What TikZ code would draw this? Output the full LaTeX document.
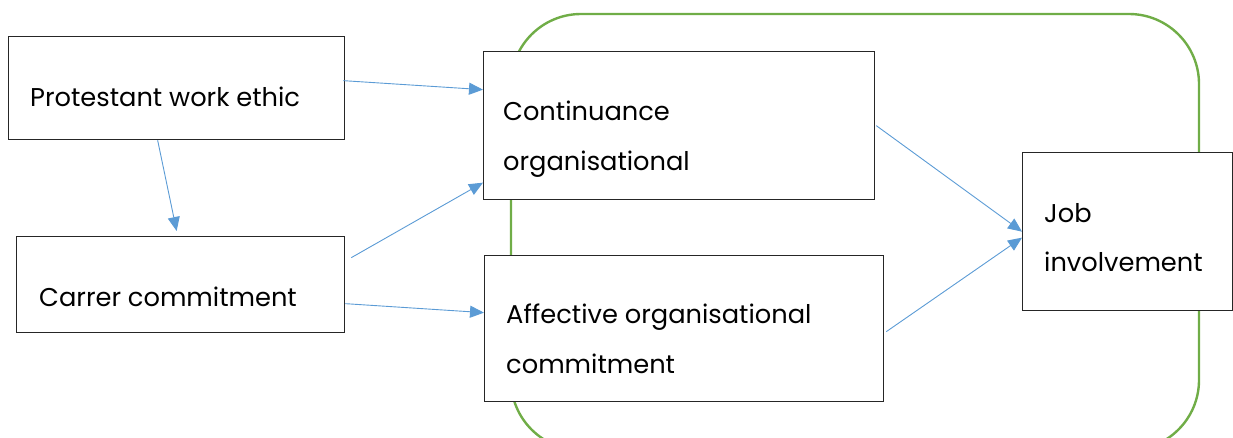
\documentclass[tikz,border=0pt]{standalone}
\usepackage{fontspec}
\setmainfont{Poppins}
\usetikzlibrary{arrows.meta}
\definecolor{arrowblue}{HTML}{5B9BD5}
\definecolor{framegreen}{HTML}{70AD47}
\begin{document}
\begin{tikzpicture}[x=1pt,y=-1pt,
  box/.style={draw=black!85, fill=white, line width=1.3pt, rectangle, inner sep=0pt, anchor=north west},
  lbl/.style={anchor=base west, inner sep=0pt, font=\fontsize{25.7}{26}\selectfont},
  link/.style={draw=arrowblue, line width=0.9pt, -{Triangle[length=14pt,width=12pt]}},
  frame/.style={draw=framegreen, line width=2.4pt, rounded corners=70pt}]
\useasboundingbox (0,0) rectangle (1233,437);
\begin{scope}
  \clip (0,0) rectangle (1233,437);
  \draw[frame] (511,14) rectangle (1199,450);
\end{scope}
\node[box, minimum width=336pt, minimum height=103pt] (pwe) at (8,36) {};
\node[box, minimum width=328pt, minimum height=96pt] (cc) at (16,236) {};
\node[box, minimum width=391pt, minimum height=148pt] (cont) at (483,51) {};
\node[box, minimum width=399pt, minimum height=146pt] (aff) at (484,255) {};
\node[box, minimum width=210pt, minimum height=158pt] (job) at (1022,152) {};
\node[lbl] (t1) at (30,106) {Protestant work ethic};
\node[lbl] (t2) at (39,306) {Carrer commitment};
\node[lbl] (t3a) at (503,120) {Continuance};
\node[lbl] (t3b) at (503,170) {organisational};
\node[lbl] (t4a) at (506,323) {Affective organisational};
\node[lbl] (t4b) at (506,373) {commitment};
\node[lbl] (t5a) at (1044,222) {Job};
\node[lbl] (t5b) at (1044,271) {involvement};
\draw[link] ([xshift=-2pt,yshift=7.5pt]pwe.east) -- ([yshift=36pt]cont.west);
\draw[link] ([xshift=-19pt]pwe.south) -- ([xshift=-4pt,yshift=5pt]cc.north);
\draw[link] ([xshift=6pt,yshift=27pt]cc.east) -- ([yshift=-57pt]cont.west);
\draw[link] ([yshift=-19pt]cc.east) -- ([yshift=16pt]aff.west);
\draw[link] ([xshift=1pt]cont.east) -- (job.west);
\draw[link] ([xshift=2pt,yshift=-3pt]aff.east) -- ([yshift=-6pt]job.west);
\end{tikzpicture}
\end{document}
